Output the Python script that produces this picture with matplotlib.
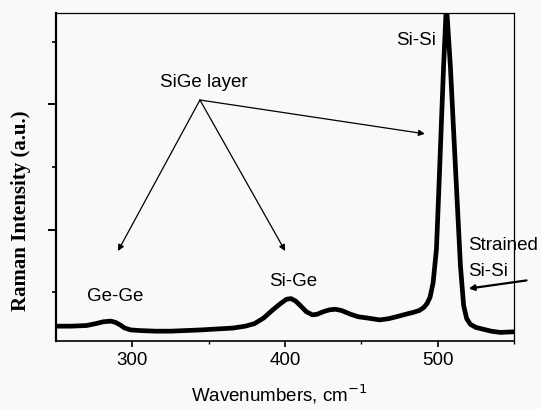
from matplotlib import pyplot as plt
from matplotlib.ticker import FixedLocator, NullFormatter

# Raman spectrum (wavenumber in cm-1, intensity in a.u.)
wavenumber = [250, 260, 270, 276, 281, 286, 289, 292, 295, 299, 305, 315,
              325, 345, 366, 374, 380, 386, 392, 397, 401, 404, 407, 410,
              414, 418, 421, 425, 429, 433, 437, 443, 448, 454, 462, 468,
              473, 479, 484, 488, 491, 493, 495, 497, 499.2, 500.7, 502.2,
              503.9, 505.7, 508.3, 510.5, 512.7, 514.9, 517, 519, 521.4,
              525, 530, 535, 541, 550]
intensity = [0.46, 0.46, 0.47, 0.50, 0.53, 0.54, 0.52, 0.48, 0.43, 0.40,
             0.39, 0.38, 0.38, 0.40, 0.43, 0.46, 0.50, 0.59, 0.72, 0.82,
             0.89, 0.90, 0.86, 0.79, 0.69, 0.64, 0.65, 0.69, 0.72, 0.73,
             0.71, 0.65, 0.61, 0.59, 0.56, 0.58, 0.61, 0.65, 0.68, 0.71,
             0.76, 0.82, 0.92, 1.15, 1.69, 2.60, 3.55, 4.62, 5.60, 4.62,
             3.55, 2.49, 1.43, 0.79, 0.58, 0.49, 0.44, 0.41, 0.38, 0.36,
             0.37]

x_major = [300, 400, 500]
x_minor = [350, 450, 550]
y_major = [2, 4]
y_minor = [1, 3, 5]

peak_labels = ["Ge-Ge", "Si-Ge", "Si-Si"]
peak_pos = [(289, 0.95), (405.3, 1.19), (486, 5.04)]
layer_origin = (344.3, 4.07)
layer_targets = [(290.6, 1.66), (400.1, 1.66), (491.6, 3.53)]

sans = "Liberation Sans"
fs = 13.5

fig = plt.figure(figsize=(5.41, 4.10), dpi=100, facecolor="#f9f9f9")
ax = fig.add_axes([0.1035, 0.1666, 0.8466, 0.7993])
ax.set_facecolor("#f9f9f9")

ax.plot(wavenumber, intensity, color="black", lw=3.4,
        solid_joinstyle="round", solid_capstyle="round")

ax.set_xlim(250, 550)
ax.set_ylim(0.228, 5.459)

ax.xaxis.set_major_locator(FixedLocator(x_major))
ax.xaxis.set_minor_locator(FixedLocator(x_minor))
ax.yaxis.set_major_locator(FixedLocator(y_major))
ax.yaxis.set_minor_locator(FixedLocator(y_minor))
ax.yaxis.set_major_formatter(NullFormatter())
ax.tick_params(axis="x", which="major", direction="out", length=4.5,
               width=1.2, labelsize=fs, pad=3)
ax.tick_params(axis="x", which="minor", direction="out", length=2.5, width=1)
ax.tick_params(axis="y", which="major", direction="out", length=5.5, width=1.4)
ax.tick_params(axis="y", which="minor", direction="out", length=3, width=1.2)
for lab in ax.get_xticklabels():
    lab.set_fontfamily(sans)

for side in ["top", "right"]:
    ax.spines[side].set_linewidth(0.9)
ax.spines["left"].set_linewidth(1.6)
ax.spines["bottom"].set_linewidth(1.2)

# peak labels
for lab, (px, py) in zip(peak_labels, peak_pos):
    ax.text(px, py, lab, ha="center", va="center", fontsize=fs, family=sans)

ax.text(347, 4.36, "SiGe layer", ha="center", va="center", fontsize=fs,
        family=sans)
for tx, ty in layer_targets:
    ax.annotate("", xy=(tx, ty), xytext=layer_origin,
                arrowprops=dict(arrowstyle="-|>", color="black", lw=0.9,
                                mutation_scale=9, shrinkA=0, shrinkB=0))

ax.text(519.8, 1.77, "Strained", ha="left", va="center", fontsize=fs,
        family=sans)
ax.text(519.8, 1.35, "Si-Si", ha="left", va="center", fontsize=fs,
        family=sans)
ax.annotate("", xy=(520.3, 1.06), xytext=(558.2, 1.19),
            annotation_clip=False,
            arrowprops=dict(arrowstyle="-|>", color="black", lw=1.6,
                            mutation_scale=8, shrinkA=0, shrinkB=0))

fig.text(0.517, 0.038, "Wavenumbers, cm$^{-1}$", ha="center", va="center",
         fontsize=13.5, family=sans)
fig.text(0.039, 0.485, "Raman Intensity (a.u.)", ha="center", va="center",
         rotation=90, fontsize=15, family="Liberation Serif", weight="bold")

fig.savefig("out.png", dpi=100, facecolor=fig.get_facecolor())
